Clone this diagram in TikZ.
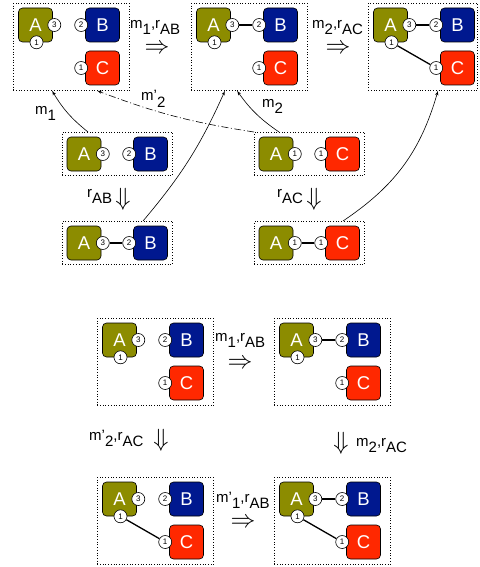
\documentclass[tikz,border=0pt]{standalone}
\usepackage{fontspec}
\setmainfont{Liberation Sans}
\usepackage{tikz}
\usetikzlibrary{arrows,calc,positioning}
\definecolor{compA}{RGB}{140,140,0}
\definecolor{compB}{RGB}{0,24,143}
\definecolor{compC}{RGB}{255,40,0}
\tikzstyle{comp} = [rectangle,rounded corners=4pt,draw=black,line width=0.6pt,minimum width=34pt,minimum height=34pt,inner sep=0pt,text=white,font=\fontsize{18.5}{18.5}\selectfont]
\tikzstyle{port} = [circle,draw,fill=white,line width=0.6pt,minimum size=13pt,inner sep=0pt,font=\fontsize{8}{8}\selectfont]
\tikzstyle{config} = [rectangle,draw,dotted,line width=0.7pt,minimum width=116pt,minimum height=87pt,inner sep=0pt,anchor=north west]
\tikzstyle{pair} = [config,minimum width=110pt,minimum height=43pt]
\tikzstyle{bind} = [line width=1.3pt]
\tikzstyle{emb} = [->,line width=0.6pt]
\tikzstyle{trans} = [inner sep=0pt,font=\fontsize{23}{23}\selectfont]
\tikzstyle{lbl} = [inner sep=0pt,anchor=base west,font=\fontsize{15}{15}\selectfont]
\newcommand{\lo}[1]{\raisebox{-6pt}{#1}}
% a configuration with the three components A, B and C
\newcommand{\triple}[3][]{%
  \node[config,#1] (#2) at (#3) {};
  \node[comp,fill=compA] (#2A) at ([shift={(22.5,-22)}]#2.north west) {A};
  \node[comp,fill=compB] (#2B) at ([shift={(89.5,-22)}]#2.north west) {B};
  \node[comp,fill=compC] (#2C) at ([shift={(89.5,-65)}]#2.north west) {C};
  \node[port] (#2A3) at ([xshift=1.5pt]#2A.east) {3};
  \node[port] (#2A1) at ([xshift=1pt]#2A.south) {1};
  \node[port] (#2B2) at ([xshift=-4pt]#2B.west) {2};
  \node[port] (#2C1) at ([xshift=-4pt]#2C.west) {1};
}
% a configuration with A and one other component
\newcommand{\pairconf}[6]{%
  \node[pair] (#1) at (#2) {};
  \node[comp,fill=compA] (#1A) at ([shift={(22,-22)}]#1.north west) {A};
  \node[comp,fill=#4] (#1X) at ([shift={(88.5,-22)}]#1.north west) {#3};
  \node[port] (#1p) at ([xshift=1.5pt]#1A.east) {#5};
  \node[port] (#1q) at ([xshift=-4pt]#1X.west) {#6};
}
\begin{document}
\begin{tikzpicture}[x=1pt,y=1pt,>=latex']
    \useasboundingbox (0,0) rectangle (479,-567);
    % upper part: the three configurations
    \triple{t1}{13,-3}
    \triple{t2}{191,-3}
    \triple[minimum width=109pt]{t3}{368,-3}
    \draw [bind] (t2A3) -- (t2B2);
    \draw [bind] (t3A3) -- (t3B2);
    \draw [bind] (t3A1) -- (t3C1);
    \node [trans] (s12) at (157,-49) {$\Rightarrow$};
    \node [lbl] (l12) at (130,-29) {m\lo{1},r\lo{AB}};
    \node [trans] (s23) at (338,-49) {$\Rightarrow$};
    \node [lbl] (l23) at (312,-29) {m\lo{2},r\lo{AC}};

    % the pairs
    \pairconf{mAB}{62,-132}{B}{compB}{3}{2}
    \pairconf{mAC}{254,-132}{C}{compC}{1}{1}
    \pairconf{bAB}{62,-221}{B}{compB}{3}{2}
    \pairconf{bAC}{254,-221}{C}{compC}{1}{1}
    \draw [bind] (bABp) -- (bABq);
    \draw [bind] (bACp) -- (bACq);
    \node [trans] (dAB) at (123,-199) {$\Downarrow$};
    \node [lbl] (lAB) at (87,-197) {r\lo{AB}};
    \node [trans] (dAC) at (314,-199) {$\Downarrow$};
    \node [lbl] (lAC) at (277,-197) {r\lo{AC}};

    % the embeddings
    \draw [emb] ([xshift=26pt]mAB.north west) to[bend left=10] ([xshift=39pt]t1.south west);
    \node [lbl] (lm1) at (35,-114) {m\lo{1}};
    \draw [emb,dash pattern=on 7pt off 2.5pt on 1pt off 2.5pt] (mAC.north west) to[bend left=6] ([xshift=84pt]t1.south west);
    \node [lbl] (lm2p) at (141,-101) {m'\lo{2}};
    \draw [emb] ([xshift=25pt]mAC.north west) to[bend left=10] ([xshift=46pt]t2.south west);
    \node [lbl] (lm2) at (262,-107) {m\lo{2}};
    \draw [emb] ([xshift=81pt]bAB.north west) to[bend right=8] ([xshift=34pt]t2.south west);
    \draw [emb] ([xshift=89pt]bAC.north west) to[bend right=20] ([xshift=70pt]t3.south west);

    % lower part: the square
    \triple{q1}{97,-318}
    \triple{q2}{274,-318}
    \triple{q3}{97,-477}
    \triple{q4}{274,-477}
    \draw [bind] (q2A3) -- (q2B2);
    \draw [bind] (q3A1) -- (q3C1);
    \draw [bind] (q4A3) -- (q4B2);
    \draw [bind] (q4A1) -- (q4C1);
    \node [trans] (s1) at (240,-364) {$\Rightarrow$};
    \node [lbl] (ls1) at (215,-341) {m\lo{1},r\lo{AB}};
    \node [trans] (s2) at (161,-440) {$\Downarrow$};
    \node [lbl] (ls2) at (89,-440) {m'\lo{2},r\lo{AC}};
    \node [trans] (s3) at (341,-443) {$\Downarrow$};
    \node [lbl] (ls3) at (356,-446) {m\lo{2},r\lo{AC}};
    \node [trans] (s4) at (243,-523) {$\Rightarrow$};
    \node [lbl] (ls4) at (216,-502) {m'\lo{1},r\lo{AB}};
\end{tikzpicture}
\end{document}
